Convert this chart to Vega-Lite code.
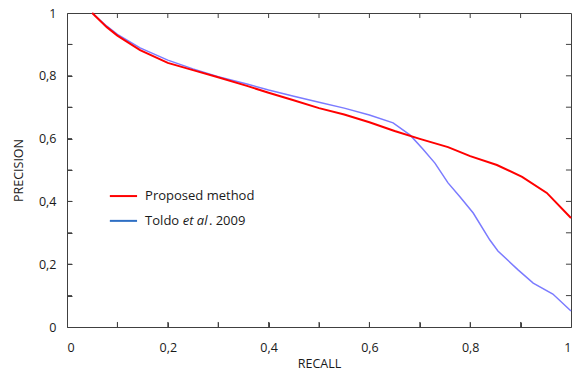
{
  "$schema": "https://vega.github.io/schema/vega-lite/v6.json",
  "autosize": "none",
  "width": 504,
  "height": 314,
  "padding": {"left": 67, "top": 13, "right": 11, "bottom": 46},
  "background": "white",
  "config": {
    "font": "Open Sans",
    "view": {"stroke": "#404040", "strokeWidth": 1},
    "axis": {
      "grid": false,
      "domain": false,
      "tickColor": "#404040",
      "ticks": true,
      "tickWidth": 1,
      "tickSize": 5,
      "offset": -5,
      "labelColor": "#1a1a1a",
      "labelFontSize": 12.5,
      "titleFontSize": 12.5,
      "titleFontWeight": "normal",
      "titleColor": "#1a1a1a"
    }
  },
  "datasets": {
    "ticks": [
      {"t": 0.1}, {"t": 0.2}, {"t": 0.3}, {"t": 0.4}, {"t": 0.5},
      {"t": 0.6}, {"t": 0.7}, {"t": 0.8}, {"t": 0.9}
    ]
  },
  "data": {
    "values": [
      {"series": "Proposed method", "recall": 0.05, "precision": 1.0},
      {"series": "Proposed method", "recall": 0.079, "precision": 0.955},
      {"series": "Proposed method", "recall": 0.1, "precision": 0.928},
      {"series": "Proposed method", "recall": 0.145, "precision": 0.882},
      {"series": "Proposed method", "recall": 0.2, "precision": 0.841},
      {"series": "Proposed method", "recall": 0.25, "precision": 0.818},
      {"series": "Proposed method", "recall": 0.298, "precision": 0.796},
      {"series": "Proposed method", "recall": 0.357, "precision": 0.768},
      {"series": "Proposed method", "recall": 0.4, "precision": 0.746},
      {"series": "Proposed method", "recall": 0.448, "precision": 0.723},
      {"series": "Proposed method", "recall": 0.5, "precision": 0.697},
      {"series": "Proposed method", "recall": 0.55, "precision": 0.677},
      {"series": "Proposed method", "recall": 0.6, "precision": 0.652},
      {"series": "Proposed method", "recall": 0.65, "precision": 0.624},
      {"series": "Proposed method", "recall": 0.7, "precision": 0.599},
      {"series": "Proposed method", "recall": 0.756, "precision": 0.573},
      {"series": "Proposed method", "recall": 0.8, "precision": 0.544},
      {"series": "Proposed method", "recall": 0.853, "precision": 0.516},
      {"series": "Proposed method", "recall": 0.903, "precision": 0.478},
      {"series": "Proposed method", "recall": 0.952, "precision": 0.427},
      {"series": "Proposed method", "recall": 1.0, "precision": 0.347},
      {"series": "Toldo", "recall": 0.05, "precision": 1.0},
      {"series": "Toldo", "recall": 0.079, "precision": 0.958},
      {"series": "Toldo", "recall": 0.1, "precision": 0.932},
      {"series": "Toldo", "recall": 0.145, "precision": 0.889},
      {"series": "Toldo", "recall": 0.2, "precision": 0.85},
      {"series": "Toldo", "recall": 0.25, "precision": 0.822},
      {"series": "Toldo", "recall": 0.3, "precision": 0.797},
      {"series": "Toldo", "recall": 0.357, "precision": 0.774},
      {"series": "Toldo", "recall": 0.4, "precision": 0.755},
      {"series": "Toldo", "recall": 0.45, "precision": 0.735},
      {"series": "Toldo", "recall": 0.5, "precision": 0.716},
      {"series": "Toldo", "recall": 0.55, "precision": 0.697},
      {"series": "Toldo", "recall": 0.6, "precision": 0.675},
      {"series": "Toldo", "recall": 0.647, "precision": 0.65},
      {"series": "Toldo", "recall": 0.681, "precision": 0.611},
      {"series": "Toldo", "recall": 0.706, "precision": 0.567},
      {"series": "Toldo", "recall": 0.73, "precision": 0.522},
      {"series": "Toldo", "recall": 0.756, "precision": 0.459},
      {"series": "Toldo", "recall": 0.78, "precision": 0.414},
      {"series": "Toldo", "recall": 0.806, "precision": 0.363},
      {"series": "Toldo", "recall": 0.839, "precision": 0.277},
      {"series": "Toldo", "recall": 0.855, "precision": 0.242},
      {"series": "Toldo", "recall": 0.895, "precision": 0.182},
      {"series": "Toldo", "recall": 0.925, "precision": 0.14},
      {"series": "Toldo", "recall": 0.964, "precision": 0.105},
      {"series": "Toldo", "recall": 1.0, "precision": 0.051}
    ]
  },
  "resolve": {"axis": {"x": "independent", "y": "independent"}},
  "layer": [
    {
      "data": {"name": "ticks"},
      "mark": {"type": "rule", "strokeWidth": 1, "color": "#404040"},
      "encoding": {
        "x": {"field": "t", "type": "quantitative", "axis": null},
        "y": {"datum": 0, "type": "quantitative", "axis": null},
        "y2": {"datum": 0.016}
      }
    },
    {
      "data": {"name": "ticks"},
      "mark": {"type": "rule", "strokeWidth": 1, "color": "#404040"},
      "encoding": {
        "x": {"field": "t", "type": "quantitative", "axis": null},
        "y": {"datum": 1, "type": "quantitative", "axis": null},
        "y2": {"datum": 0.984}
      }
    },
    {
      "data": {"name": "ticks"},
      "mark": {"type": "rule", "strokeWidth": 1, "color": "#404040"},
      "encoding": {
        "y": {"field": "t", "type": "quantitative", "axis": null},
        "x": {"datum": 0, "type": "quantitative", "axis": null},
        "x2": {"datum": 0.01}
      }
    },
    {
      "data": {"name": "ticks"},
      "mark": {"type": "rule", "strokeWidth": 1, "color": "#404040"},
      "encoding": {
        "y": {"field": "t", "type": "quantitative", "axis": null},
        "x": {"datum": 1, "type": "quantitative", "axis": null},
        "x2": {"datum": 0.99}
      }
    },
    {
      "mark": {"type": "line", "strokeWidth": 1.5},
      "transform": [{"filter": "datum.series === 'Toldo'"}],
      "encoding": {
        "x": {
          "field": "recall", "type": "quantitative",
          "scale": {"domain": [0, 1], "nice": false},
          "axis": {
            "orient": "bottom", "title": "RECALL",
            "values": [0, 0.1, 0.2, 0.3, 0.4, 0.5, 0.6, 0.7, 0.8, 0.9, 1],
            "labelExpr": "(round(datum.value*10) % 2 == 0) ? replace(format(datum.value, '~g'), '.', ',') : ''",
            "labelPadding": 14, "titlePadding": 4
          }
        },
        "y": {
          "field": "precision", "type": "quantitative",
          "scale": {"domain": [0, 1], "nice": false},
          "axis": {
            "orient": "left", "title": "PRECISION",
            "values": [0, 0.1, 0.2, 0.3, 0.4, 0.5, 0.6, 0.7, 0.8, 0.9, 1],
            "labelExpr": "(round(datum.value*10) % 2 == 0) ? replace(format(datum.value, '~g'), '.', ',') : ''",
            "labelPadding": 11, "titlePadding": 13
          }
        },
        "color": {"value": "#7b7bff"}
      }
    },
    {
      "mark": {"type": "line", "strokeWidth": 2},
      "transform": [{"filter": "datum.series === 'Proposed method'"}],
      "encoding": {
        "x": {"field": "recall", "type": "quantitative", "axis": null},
        "y": {"field": "precision", "type": "quantitative", "axis": null},
        "color": {"value": "#ff0000"}
      }
    },
    {
      "data": {"values": [{"series": "Proposed method"}]},
      "mark": {"type": "rule", "strokeWidth": 2, "color": "#ff0000"},
      "encoding": {
        "x": {"datum": 0.085, "type": "quantitative", "axis": null},
        "x2": {"datum": 0.139},
        "y": {"datum": 0.417, "type": "quantitative", "axis": null}
      }
    },
    {
      "data": {"values": [{"series": "Toldo"}]},
      "mark": {"type": "rule", "strokeWidth": 2, "color": "#2e6fc4"},
      "encoding": {
        "x": {"datum": 0.085, "type": "quantitative", "axis": null},
        "x2": {"datum": 0.139},
        "y": {"datum": 0.338, "type": "quantitative", "axis": null}
      }
    },
    {
      "data": {"values": [{"label": "Proposed method"}]},
      "mark": {"type": "text", "align": "left", "baseline": "middle", "fontSize": 13, "color": "#1a1a1a"},
      "encoding": {
        "x": {"datum": 0.155, "type": "quantitative", "axis": null},
        "y": {"datum": 0.417, "type": "quantitative", "axis": null},
        "text": {"field": "label"}
      }
    },
    {
      "data": {"values": [{"label": "Toldo"}]},
      "mark": {"type": "text", "align": "left", "baseline": "middle", "fontSize": 13, "color": "#1a1a1a"},
      "encoding": {
        "x": {"datum": 0.155, "type": "quantitative", "axis": null},
        "y": {"datum": 0.338, "type": "quantitative", "axis": null},
        "text": {"field": "label"}
      }
    },
    {
      "data": {"values": [{"label": "et al"}]},
      "mark": {"type": "text", "align": "left", "baseline": "middle", "fontSize": 13, "fontStyle": "italic", "color": "#1a1a1a"},
      "encoding": {
        "x": {"datum": 0.2295, "type": "quantitative", "axis": null},
        "y": {"datum": 0.338, "type": "quantitative", "axis": null},
        "text": {"field": "label"}
      }
    },
    {
      "data": {"values": [{"label": ". 2009"}]},
      "mark": {"type": "text", "align": "left", "baseline": "middle", "fontSize": 13, "color": "#1a1a1a"},
      "encoding": {
        "x": {"datum": 0.2815, "type": "quantitative", "axis": null},
        "y": {"datum": 0.338, "type": "quantitative", "axis": null},
        "text": {"field": "label"}
      }
    }
  ]
}
